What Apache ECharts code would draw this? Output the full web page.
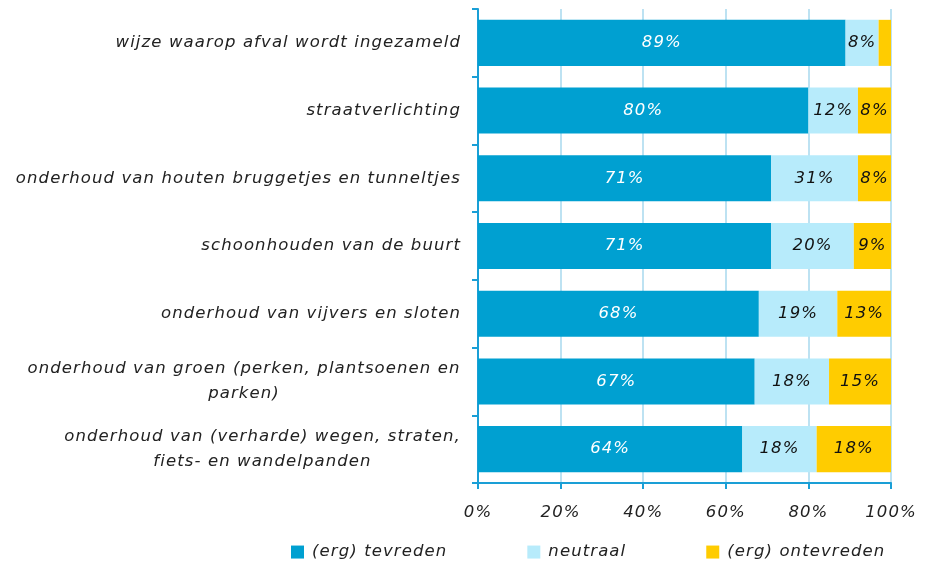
<!DOCTYPE html>
<html>
<head>
<meta charset="utf-8">
<script>
// widen glyph spacing to mimic the source's wide italic face
(function () {
  const orig = HTMLCanvasElement.prototype.getContext;
  HTMLCanvasElement.prototype.getContext = function (type, opts) {
    const ctx = orig.call(this, type, opts);
    if (ctx && type === '2d' && 'letterSpacing' in ctx) ctx.letterSpacing = '1.1px';
    return ctx;
  };
})();
</script>
<script src="https://cdn.jsdelivr.net/npm/echarts@6/dist/echarts.min.js"></script>
<style>html,body{margin:0;padding:0;background:#fff}#c{width:933px;height:565px}</style>
</head>
<body>
<div id="c"></div>
<script>
const categories = [
  'wijze waarop afval wordt ingezameld',
  'straatverlichting',
  'onderhoud van houten bruggetjes en tunneltjes',
  'schoonhouden van de buurt',
  'onderhoud van vijvers en sloten',
  'onderhoud van groen (perken, plantsoenen en\nparken)',
  'onderhoud van (verharde) wegen, straten,\nfiets- en wandelpanden'
];
const seriesNames = ['(erg) tevreden', 'neutraal', '(erg) ontevreden'];
const tevreden = [89, 80, 71, 71, 68, 67, 64];
const neutraal = [8, 12, 21, 20, 19, 18, 18];
const ontevreden = [3, 8, 8, 9, 13, 15, 18];
// printed labels as shown in the source (one label differs from its bar width)
const tevredenLabels = [89, 80, 71, 71, 68, 67, 64];
const neutraalLabels = [8, 12, 31, 20, 19, 18, 18];
const ontevredenLabels = [null, 8, 8, 9, 13, 15, 18];
const xTicks = [0, 20, 40, 60, 80, 100];

const FONT = 'DejaVu Sans';
const FS = 16.5;
const colors = ['#00A0D1', '#B7EBFB', '#FFCC00'];

// measure a text line in the label font (for centring wrapped labels)
const mctx = document.createElement('canvas').getContext('2d');
mctx.font = 'italic ' + FS + 'px "' + FONT + '"';
function textW(s) { return Math.ceil(mctx.measureText(s).width); }

const rich = {};
const richKeyOf = {};
categories.forEach((c, i) => {
  if (c.indexOf('\n') >= 0) {
    const lines = c.split('\n');
    const w = Math.max.apply(null, lines.map(textW));
    const key = 'r' + i;
    rich[key] = { width: w, align: 'center', fontFamily: FONT, fontStyle: 'italic', fontSize: FS, color: '#222', lineHeight: 25 };
    richKeyOf[c] = key;
  }
});

function mkSeries(name, values, labels, color, labelColor) {
  return {
    name: name,
    type: 'bar',
    stack: 'total',
    barCategoryGap: '32%',
    itemStyle: { color: color },
    data: values,
    label: {
      show: true,
      position: 'inside',
      color: labelColor,
      fontFamily: FONT,
      fontStyle: 'italic',
      fontSize: FS,
      formatter: p => labels[p.dataIndex] == null ? '' : labels[p.dataIndex] + '%'
    }
  };
}

const chart = echarts.init(document.getElementById('c'), null, { renderer: 'canvas' });
chart.setOption({
  animation: false,
  textStyle: { fontFamily: FONT },
  grid: { left: 478, right: 42, top: 9, bottom: 82, containLabel: false },
  legend: {
    left: 291,
    top: 543,
    padding: 0,
    itemWidth: 13,
    itemHeight: 13,
    itemGap: 80,
    icon: 'rect',
    textStyle: { fontFamily: FONT, fontStyle: 'italic', fontSize: FS, color: '#222', padding: [0, 0, 0, 3] },
    data: seriesNames
  },
  xAxis: {
    type: 'value',
    min: 0,
    max: 100,
    interval: 20,
    axisLine: { show: true, lineStyle: { color: '#1A9FD6', width: 2 } },
    axisTick: { show: true, length: 6, lineStyle: { color: '#1A9FD6', width: 2 } },
    splitLine: { show: true, lineStyle: { color: '#A7D8EE', width: 1.5 } },
    axisLabel: {
      margin: 21,
      fontFamily: FONT,
      fontStyle: 'italic',
      fontSize: FS,
      color: '#222',
      formatter: v => xTicks.includes(v) ? v + '%' : ''
    }
  },
  yAxis: {
    type: 'category',
    inverse: true,
    data: categories,
    axisLine: { show: true, lineStyle: { color: '#1A9FD6', width: 2 } },
    axisTick: { show: true, length: 6, lineStyle: { color: '#1A9FD6', width: 2 } },
    axisLabel: {
      margin: 17,
      fontFamily: FONT,
      fontStyle: 'italic',
      fontSize: FS,
      color: '#222',
      lineHeight: 25,
      formatter: function (v) {
        const key = richKeyOf[v];
        if (key) return v.split('\n').map(p => '{' + key + '|' + p + '}').join('\n');
        return v;
      },
      rich: rich
    }
  },
  series: [
    mkSeries(seriesNames[0], tevreden, tevredenLabels, colors[0], '#ffffff'),
    mkSeries(seriesNames[1], neutraal, neutraalLabels, colors[1], '#111111'),
    mkSeries(seriesNames[2], ontevreden, ontevredenLabels, colors[2], '#111111')
  ]
});
</script>
</body>
</html>
